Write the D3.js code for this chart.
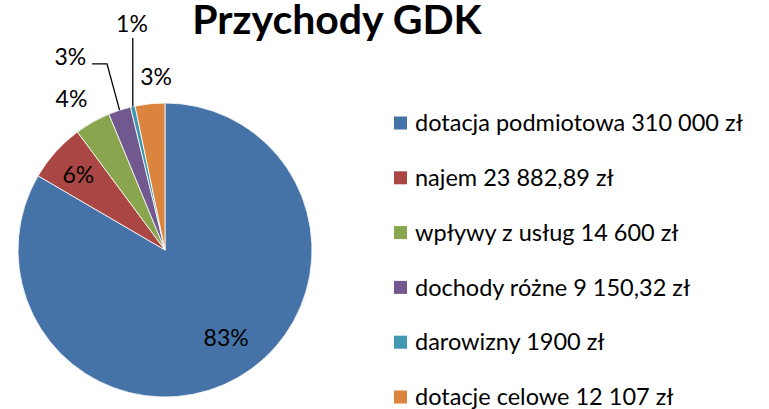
<!DOCTYPE html>
<html>
<head>
<meta charset="utf-8">
<script src="https://cdn.jsdelivr.net/npm/d3@7"></script>
<style>
  body { margin: 0; background: #fff; }
  text { font-family: Lato, "Open Sans", sans-serif; fill: #000; }
</style>
</head>
<body>
<svg id="chart"></svg>
<script>
var width = 769, height = 409;

var categories = ["dotacja podmiotowa 310 000 zł", "najem 23 882,89 zł", "wpływy z usług 14 600 zł",
	"dochody różne 9 150,32 zł", "darowizny 1900 zł", "dotacje celowe 12 107 zł"];
var values = [310000, 23882.89, 14600, 9150.32, 1900, 12107];
var percentLabels = ["83%", "6%", "4%", "3%", "1%", "3%"];
var colors = ["#4572A7", "#AA4643", "#89A54E", "#71588F", "#4198AF", "#DB843D"];

var cx = 165, cy = 250, radius = 147;

// label placement: radius from centre and angle nudge (degrees) off the slice middle
var labelRadius = [107, 115, 178, 215, 229, 174];
var labelShift = [-5, -0.8, -2.2, -8.1, 4.35, 2.9];
var leaderLines = [null, null, null, {elbowR: 195, elbowShift: 0.7, endDx: -15}, {vertical: 38}, null];

var svg = d3.select("#chart")
	.attr("width", width)
	.attr("height", height);

svg.append("text")
	.attr("x", 337)
	.attr("y", 34)
	.attr("text-anchor", "middle")
	.style("font-size", "41px")
	.style("font-weight", "bold")
	.text("Przychody GDK");

var pie = d3.pie().sort(null).value(function (d) { return d; });
var arcs = pie(values);

var arc = d3.arc().innerRadius(0).outerRadius(radius);

var g = svg.append("g").attr("transform", "translate(" + cx + "," + cy + ")");

g.selectAll("path.slice")
	.data(arcs).enter().append("path")
		.attr("class", "slice")
		.attr("d", arc)
		.attr("fill", function (d, i) { return colors[i]; })
		.attr("stroke", "#fff")
		.attr("stroke-width", 0.8);

function polar(r, a) {
	return [r * Math.sin(a), -r * Math.cos(a)];
}
function midAngle(d) { return (d.startAngle + d.endAngle) / 2; }

arcs.forEach(function (d, i) {
	var a = midAngle(d) + labelShift[i] * Math.PI / 180;
	var p = polar(labelRadius[i], a);
	g.append("text")
		.attr("x", p[0])
		.attr("y", p[1])
		.attr("dy", "0.36em")
		.attr("text-anchor", "middle")
		.style("font-size", "23px")
		.text(percentLabels[i]);

	var ll = leaderLines[i];
	if (!ll) return;
	var start = polar(radius, midAngle(d));
	var pts;
	if (ll.vertical !== undefined) {
		pts = [start, [start[0], ll.vertical - cy]];
	} else {
		var elbow = polar(ll.elbowR, midAngle(d) + ll.elbowShift * Math.PI / 180);
		pts = [start, elbow, [elbow[0] + ll.endDx, elbow[1]]];
	}
	g.append("path")
		.attr("d", d3.line()(pts))
		.attr("fill", "none")
		.attr("stroke", "#000")
		.attr("stroke-width", 1.3);
});

var legendY = d3.scalePoint()
	.domain(d3.range(categories.length))
	.range([123, 397]);

var legend = svg.append("g").attr("class", "legend");
var items = legend.selectAll("g")
	.data(categories).enter().append("g")
		.attr("transform", function (d, i) { return "translate(394," + legendY(i) + ")"; });

items.append("rect")
	.attr("x", 0)
	.attr("y", -6.5)
	.attr("width", 13)
	.attr("height", 13)
	.attr("fill", function (d, i) { return colors[i]; });

items.append("text")
	.attr("x", 21)
	.attr("dy", "0.35em")
	.style("font-size", "23.5px")
	.text(function (d) { return d; });
</script>
</body>
</html>
